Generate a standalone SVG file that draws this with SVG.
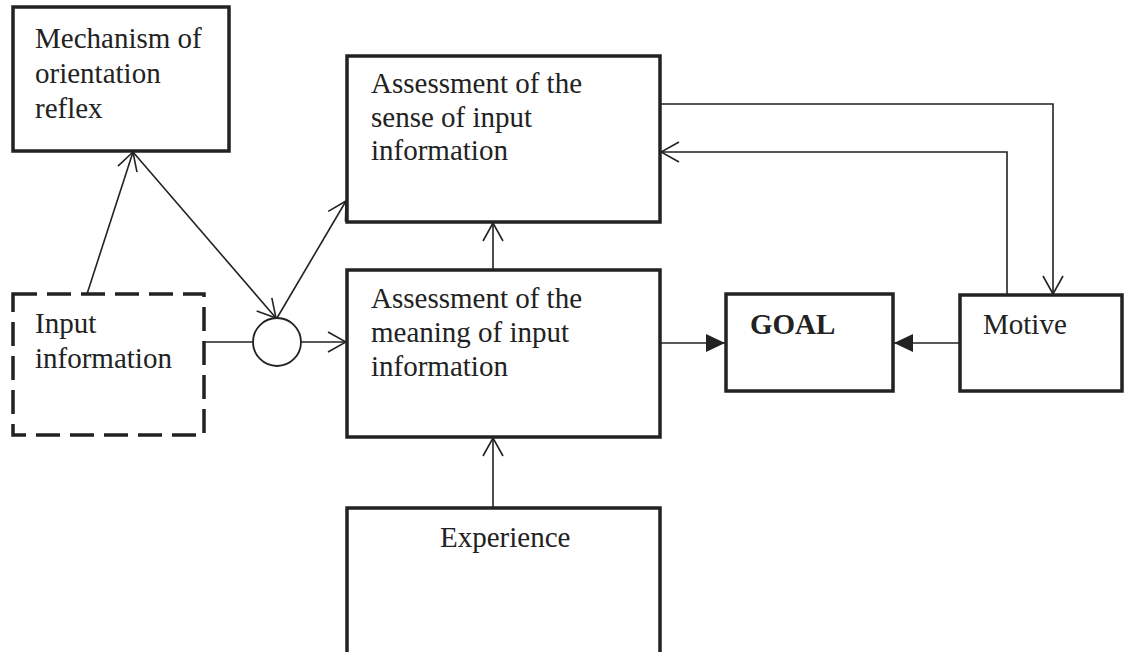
<svg xmlns="http://www.w3.org/2000/svg" width="1139" height="652" viewBox="0 0 1139 652">
<style>
.box{fill:#fff;stroke:#222;stroke-width:3.5}
.dash{fill:#fff;stroke:#222;stroke-width:3.5;stroke-dasharray:24 10}
.t{font-family:"Liberation Serif","Times New Roman",serif;font-size:29px;fill:#222}
.b{font-weight:bold}
.c{fill:none;stroke:#222;stroke-width:1.6}
</style>
<defs>
<marker id="open" viewBox="0 0 20 22" refX="19" refY="11" markerWidth="20" markerHeight="22" markerUnits="userSpaceOnUse" orient="auto">
<path d="M1,1 L19,11 L1,21" fill="none" stroke="#222" stroke-width="1.6"/>
</marker>
<marker id="fill" viewBox="0 0 19 18" refX="19" refY="9" markerWidth="19" markerHeight="18" markerUnits="userSpaceOnUse" orient="auto">
<path d="M0,0 L19,9 L0,18 Z" fill="#222"/>
</marker>
</defs>
<rect width="1139" height="652" fill="#fff"/>
<g id="connectors">
<line class="c" x1="87" y1="294" x2="133" y2="152" marker-end="url(#open)"/>
<line class="c" x1="133" y1="152" x2="276" y2="318" marker-end="url(#open)"/>
<line class="c" x1="277" y1="318" x2="346" y2="201" marker-end="url(#open)"/>
<line class="c" x1="205" y1="342" x2="253" y2="342"/>
<line class="c" x1="301" y1="342" x2="346" y2="342" marker-end="url(#open)"/>
<line class="c" x1="493" y1="270" x2="493" y2="223" marker-end="url(#open)"/>
<line class="c" x1="493" y1="508" x2="493" y2="438" marker-end="url(#open)"/>
<polyline class="c" points="661,104 1053,104 1053,294" marker-end="url(#open)"/>
<polyline class="c" points="1007,294 1007,152 661,152" marker-end="url(#open)"/>
<line class="c" x1="661" y1="343" x2="725" y2="343" marker-end="url(#fill)"/>
<line class="c" x1="959" y1="343" x2="894" y2="343" marker-end="url(#fill)"/>
</g>
<g id="mechanism">
<rect class="box" x="13" y="7" width="216" height="144"/>
<text class="t" x="35" y="48">Mechanism of</text>
<text class="t" x="35" y="83">orientation</text>
<text class="t" x="35" y="118">reflex</text>
</g>
<g id="input">
<rect class="dash" x="13" y="294" width="191" height="141"/>
<text class="t" x="35" y="333">Input</text>
<text class="t" x="35" y="368">information</text>
</g>
<g id="junction">
<circle cx="277" cy="342" r="24" fill="#fff" stroke="#222" stroke-width="1.8"/>
</g>
<g id="sense">
<rect class="box" x="347" y="56" width="313" height="166"/>
<text class="t" x="371" y="93">Assessment of the</text>
<text class="t" x="371" y="127">sense of input</text>
<text class="t" x="371" y="160">information</text>
</g>
<g id="meaning">
<rect class="box" x="347" y="270" width="313" height="167"/>
<text class="t" x="371" y="308">Assessment of the</text>
<text class="t" x="371" y="342">meaning of input</text>
<text class="t" x="371" y="376">information</text>
</g>
<g id="experience">
<rect class="box" x="347" y="508" width="313" height="160"/>
<text class="t" x="440" y="547">Experience</text>
</g>
<g id="goal">
<rect class="box" x="726" y="294" width="167" height="97"/>
<text class="t b" x="750" y="334">GOAL</text>
</g>
<g id="motive">
<rect class="box" x="960" y="295" width="162" height="96"/>
<text class="t" x="983" y="334">Motive</text>
</g>
</svg>
